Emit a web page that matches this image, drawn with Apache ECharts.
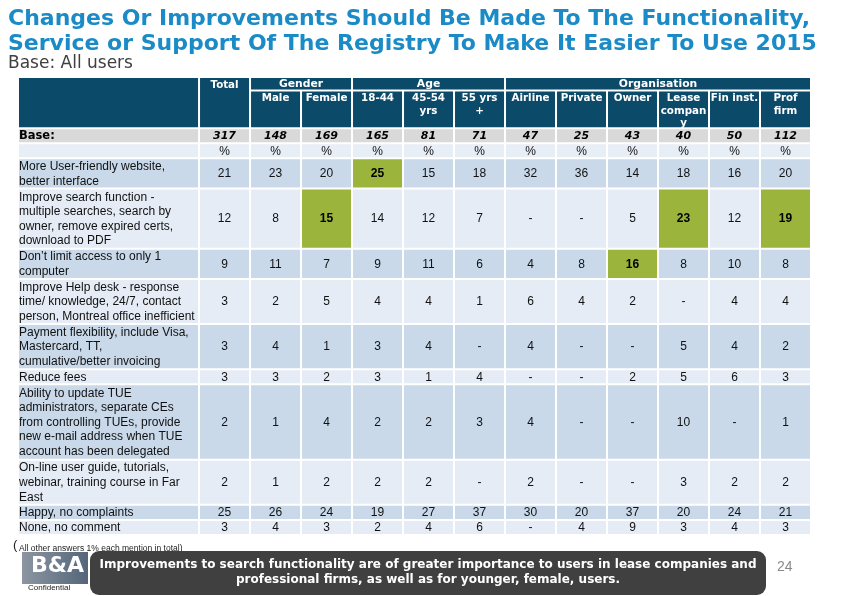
<!DOCTYPE html>
<html>
<head>
<meta charset="utf-8">
<script src="https://cdn.jsdelivr.net/npm/echarts@6/dist/echarts.min.js"></script>
<style>
html,body{margin:0;padding:0;background:#fff;}
#chart{width:842px;height:596px;}
</style>
</head>
<body>
<div id="chart"></div>
<script>
// ---------- data ----------
const columns = ['Total', 'Male', 'Female', '18-44', '45-54\nyrs', '55 yrs\n+', 'Airline', 'Private', 'Owner', 'Lease\ncompan\ny', 'Fin inst.', 'Prof\nfirm'];
const groupNames = ['Gender', 'Age', 'Organisation'];
const groupFirstCol = [1, 3, 6];
const groupLastCol = [2, 5, 11];
const baseCounts = ['317', '148', '169', '165', '81', '71', '47', '25', '43', '40', '50', '112'];

const rowLabels = [
  'More User-friendly website,\nbetter interface',
  'Improve search function -\nmultiple searches, search by\nowner, remove expired certs,\ndownload to PDF',
  'Don\u2019t limit access to only 1\ncomputer',
  'Improve Help desk - response\ntime/ knowledge, 24/7, contact\nperson, Montreal office inefficient',
  'Payment flexibility, include Visa,\nMastercard, TT,\ncumulative/better invoicing',
  'Reduce fees',
  'Ability to update TUE\nadministrators, separate CEs\nfrom controlling TUEs, provide\nnew e-mail address when TUE\naccount has been delegated',
  'On-line user guide, tutorials,\nwebinar, training course in Far\nEast',
  'Happy, no complaints',
  'None, no comment'
];
const userFriendly   = ['21', '23', '20', '25', '15', '18', '32', '36', '14', '18', '16', '20'];
const searchFunction = ['12', '8', '15', '14', '12', '7', '-', '-', '5', '23', '12', '19'];
const accessLimit    = ['9', '11', '7', '9', '11', '6', '4', '8', '16', '8', '10', '8'];
const helpDesk       = ['3', '2', '5', '4', '4', '1', '6', '4', '2', '-', '4', '4'];
const payment        = ['3', '4', '1', '3', '4', '-', '4', '-', '-', '5', '4', '2'];
const reduceFees     = ['3', '3', '2', '3', '1', '4', '-', '-', '2', '5', '6', '3'];
const tueAdmin       = ['2', '1', '4', '2', '2', '3', '4', '-', '-', '10', '-', '1'];
const onlineGuide    = ['2', '1', '2', '2', '2', '-', '2', '-', '-', '3', '2', '2'];
const happy          = ['25', '26', '24', '19', '27', '37', '30', '20', '37', '20', '24', '21'];
const noComment      = ['3', '4', '3', '2', '4', '6', '-', '4', '9', '3', '4', '3'];
const rowValues = [userFriendly, searchFunction, accessLimit, helpDesk, payment, reduceFees, tueAdmin, onlineGuide, happy, noComment];
// highlighted cells: [row, column]
const highlighted = [[0, 3], [1, 2], [1, 9], [1, 11], [2, 8]];

// ---------- layout / styles ----------
const LABEL_MIN = -3.55;   // label column width in column units
const HEAD_GROUP = 0.9, HEAD_SUB = 2.5;
const palette = {
  header: '#0c4a69', base: '#d9d9d9', pct: '#e8eef6',
  dark: '#c9d9e9', light: '#e5ecf5', hl: '#9ab43c'
};

const cells = [];
function add(x0, x1, y0, y1, text, fill, kind) { cells.push({x0, x1, y0, y1, text, fill, kind}); }

const HEAD_H = HEAD_GROUP + HEAD_SUB;
add(LABEL_MIN, 0, 0, HEAD_H, '', palette.header, 'headTop');
add(0, 1, 0, HEAD_H, columns[0], palette.header, 'headTop');
groupNames.forEach((g, i) => add(groupFirstCol[i], groupLastCol[i] + 1, 0, HEAD_GROUP, g, palette.header, 'group'));
for (let c = 1; c < columns.length; c++) add(c, c + 1, HEAD_GROUP, HEAD_H, columns[c], palette.header, 'headTop');

let y = HEAD_H;
add(LABEL_MIN, 0, y, y + 1, 'Base:', palette.base, 'baseLabel');
baseCounts.forEach((v, c) => add(c, c + 1, y, y + 1, v, palette.base, 'base'));
y += 1;
add(LABEL_MIN, 0, y, y + 1, '', palette.pct, 'label');
columns.forEach((v, c) => add(c, c + 1, y, y + 1, '%', palette.pct, 'value'));
y += 1;
rowLabels.forEach((lab, r) => {
  const h = lab.split('\n').length;
  const fill = r % 2 === 0 ? palette.dark : palette.light;
  add(LABEL_MIN, 0, y, y + h, lab, fill, 'label');
  rowValues[r].forEach((v, c) => {
    const hl = highlighted.some(p => p[0] === r && p[1] === c);
    add(c, c + 1, y, y + h, v, hl ? palette.hl : fill, hl ? 'hl' : 'value');
  });
  y += h;
});
const TOTAL_UNITS = y;

const textStyles = {
  headTop: {fill: '#fff', fontFamily: 'DejaVu Sans', fontWeight: 'bold', fontSize: 10.3, lineHeight: 12.5},
  group: {fill: '#fff', fontFamily: 'DejaVu Sans', fontWeight: 'bold', fontSize: 10.8},
  baseLabel: {fill: '#000', fontFamily: 'DejaVu Sans', fontWeight: 'bold', fontSize: 11.5},
  base: {fill: '#000', fontFamily: 'DejaVu Sans', fontWeight: 'bold', fontStyle: 'italic', fontSize: 11},
  label: {fill: '#111', fontFamily: 'Liberation Sans', fontSize: 12, lineHeight: 14.6},
  value: {fill: '#111', fontFamily: 'Liberation Sans', fontSize: 12},
  hl: {fill: '#000', fontFamily: 'Liberation Sans', fontWeight: 'bold', fontSize: 12}
};

function renderItem(params, api) {
  const cell = cells[params.dataIndex];
  const p0 = api.coord([api.value(0), api.value(2)]);
  const p1 = api.coord([api.value(1), api.value(3)]);
  const rx = p0[0] + 1, ry = p0[1] + 1, rw = p1[0] - p0[0] - 2, rh = p1[1] - p0[1] - 2;
  const ts = Object.assign({text: cell.text}, textStyles[cell.kind]);
  if (cell.kind === 'headTop') {
    Object.assign(ts, {x: rx + rw / 2, y: ry + 1, align: 'center', verticalAlign: 'top'});
  } else if (cell.kind === 'label' || cell.kind === 'baseLabel') {
    Object.assign(ts, {x: rx, y: ry + rh / 2 + 0.5, align: 'left', verticalAlign: 'middle'});
  } else {
    Object.assign(ts, {x: rx + rw / 2, y: ry + rh / 2 + 0.5, align: 'center', verticalAlign: 'middle'});
  }
  return {
    type: 'group',
    children: [
      {type: 'rect', shape: {x: rx, y: ry, width: rw, height: rh}, style: {fill: cell.fill}},
      {type: 'text', style: ts}
    ]
  };
}

const chart = echarts.init(document.getElementById('chart'), null, {renderer: 'canvas'});
chart.setOption({
  backgroundColor: '#fff',
  animation: false,
  title: [
    {
      text: 'Changes Or Improvements Should Be Made To The Functionality,\nService or Support Of The Registry To Make It Easier To Use 2015',
      left: 8, top: 7, padding: 0,
      textStyle: {color: '#1a8bc6', fontFamily: 'DejaVu Sans', fontWeight: 'bold', fontSize: 22, lineHeight: 25}
    },
    {
      text: 'Base: All users',
      left: 8, top: 55, padding: 0,
      textStyle: {color: '#404040', fontFamily: 'DejaVu Sans', fontWeight: 'normal', fontSize: 17}
    }
  ],
  grid: {left: 18, right: 31, top: 77, bottom: 61},
  xAxis: {type: 'value', min: LABEL_MIN, max: columns.length, show: false},
  yAxis: {type: 'value', min: 0, max: TOTAL_UNITS, inverse: true, show: false},
  series: [{
    type: 'custom',
    renderItem: renderItem,
    clip: false,
    data: cells.map(c => [c.x0, c.x1, c.y0, c.y1])
  }],
  graphic: [
    {type: 'text', left: 13, top: 539, style: {text: '(', fontSize: 13, fontFamily: 'Liberation Sans', fill: '#222'}},
    {type: 'text', left: 19, top: 544, style: {text: 'All other answers 1% each mention in total)', fontSize: 8.5, fontFamily: 'Liberation Sans', fill: '#222'}},
    {type: 'rect', left: 22, top: 552, shape: {width: 66, height: 32},
      style: {fill: new echarts.graphic.LinearGradient(0, 0, 1, 0, [{offset: 0, color: '#8c96a2'}, {offset: 1, color: '#54667a'}])}},
    {type: 'text', left: 31, top: 555, style: {text: 'B&A', fontSize: 22, fontWeight: 'bold', fontFamily: 'DejaVu Sans', fill: '#fff'}},
    {type: 'text', left: 28, top: 584, style: {text: 'Confidential', fontSize: 8, fontFamily: 'Liberation Sans', fill: '#222'}},
    {type: 'rect', left: 90, top: 551, shape: {width: 676, height: 44, r: [9, 9, 9, 9]}, style: {fill: '#404040'}},
    {type: 'text', x: 428, y: 572, style: {
      text: 'Improvements to search functionality are of greater importance to users in lease companies and\nprofessional firms, as well as for younger, female, users.',
      fontSize: 12, fontWeight: 'bold', fontFamily: 'DejaVu Sans', fill: '#fff', align: 'center', verticalAlign: 'middle', lineHeight: 15}},
    {type: 'text', left: 777, top: 560, style: {text: '24', fontSize: 14, fontFamily: 'Liberation Sans', fill: '#8a8a8a'}}
  ]
});
</script>
</body>
</html>
